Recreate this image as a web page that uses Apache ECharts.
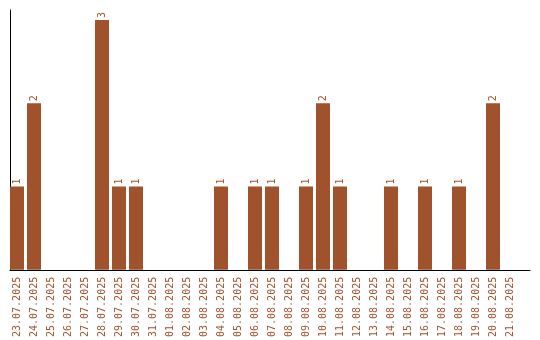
<!DOCTYPE html>
<html><head><meta charset="utf-8">
<script src="https://cdn.jsdelivr.net/npm/echarts@6/dist/echarts.min.js"></script>
<style>html,body{margin:0;padding:0;background:#fff}#c{width:540px;height:340px}</style>
</head><body><div id="c"></div>
<script>
const categories = ["23.07.2025","24.07.2025","25.07.2025","26.07.2025","27.07.2025","28.07.2025","29.07.2025","30.07.2025","31.07.2025","01.08.2025","02.08.2025","03.08.2025","04.08.2025","05.08.2025","06.08.2025","07.08.2025","08.08.2025","09.08.2025","10.08.2025","11.08.2025","12.08.2025","13.08.2025","14.08.2025","15.08.2025","16.08.2025","17.08.2025","18.08.2025","19.08.2025","20.08.2025","21.08.2025"];
const counts = [1,2,0,0,0,3,1,1,0,0,0,0,1,0,1,1,0,1,2,1,0,0,1,0,1,0,1,0,2,0];

const brown = '#a0522d';
const font = 'DejaVu Sans Mono';
const chart = echarts.init(document.getElementById('c'), null, {renderer:'canvas'});
chart.setOption({
  animation:false,
  grid:[
    {left:8.5, width:510, top:10, bottom:70},
    {left:10, right:10, top:10, bottom:70}
  ],
  xAxis:[
    {type:'category', gridIndex:0, data:categories, boundaryGap:true,
     axisLine:{show:false}, axisTick:{show:false},
     axisLabel:{rotate:90, interval:0, color:brown, fontFamily:font, fontSize:10, margin:7}},
    {type:'value', gridIndex:1, min:0, max:1, axisLine:{show:true, lineStyle:{color:'#000', width:1}},
     axisTick:{show:false}, axisLabel:{show:false}, splitLine:{show:false}}
  ],
  yAxis:[
    {type:'value', gridIndex:0, min:0, max:3.12, show:false, splitLine:{show:false}},
    {type:'value', gridIndex:1, min:0, max:1, axisLine:{show:true, lineStyle:{color:'#000', width:1}},
     axisTick:{show:false}, axisLabel:{show:false}, splitLine:{show:false}}
  ],
  series:[
    {type:'bar', xAxisIndex:0, yAxisIndex:0, data:counts.map(v=>v===0?null:v), barWidth:14,
     itemStyle:{color:brown},
     label:{show:true, position:'top', rotate:90, align:'left', verticalAlign:'middle', distance:2,
            color:brown, fontFamily:font, fontSize:10}},
    {type:'line', xAxisIndex:1, yAxisIndex:1, data:[], silent:true}
  ]
});
</script></body></html>
